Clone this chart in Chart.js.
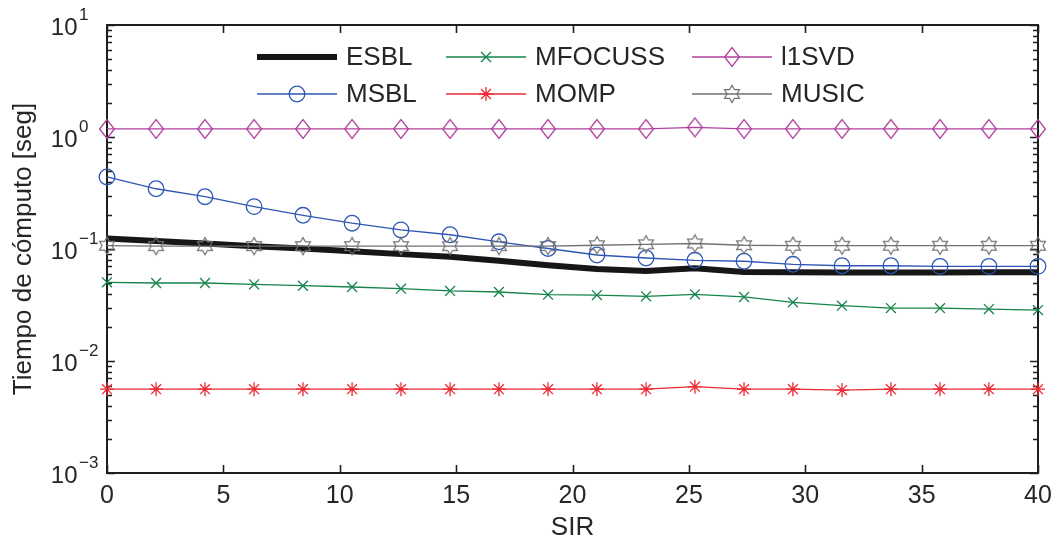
<!DOCTYPE html>
<html>
<head>
<meta charset="utf-8">
<script src="https://cdn.jsdelivr.net/npm/chart.js@4/dist/chart.umd.min.js"></script>
<style>
html,body{margin:0;padding:0;background:#ffffff;}
#wrap{width:1061px;height:543px;position:relative;}
</style>
</head>
<body>
<div id="wrap"><canvas id="c" width="1061" height="543"></canvas></div>
<script>
// ---- data ----
const sir = [0, 2.11, 4.21, 6.32, 8.42, 10.53, 12.63, 14.74, 16.84, 18.95, 21.05, 23.16, 25.26, 27.37, 29.47, 31.58, 33.68, 35.79, 37.89, 40];
const seriesNames = ['ESBL', 'MSBL', 'MFOCUSS', 'MOMP', 'l1SVD', 'MUSIC'];
const esbl    = [0.124, 0.118, 0.112, 0.106, 0.101, 0.0955, 0.090, 0.0853, 0.0786, 0.0715, 0.0663, 0.0636, 0.0673, 0.0623, 0.0619, 0.0617, 0.0617, 0.0618, 0.0619, 0.0620];
const msbl    = [0.44, 0.345, 0.293, 0.239, 0.200, 0.170, 0.148, 0.134, 0.116, 0.101, 0.0884, 0.0831, 0.0793, 0.0777, 0.0730, 0.0709, 0.0709, 0.0700, 0.0700, 0.0700];
const mfocuss = [0.0504, 0.0497, 0.0497, 0.0484, 0.0470, 0.0458, 0.0442, 0.0422, 0.0413, 0.0391, 0.0388, 0.0378, 0.0394, 0.0373, 0.0334, 0.0312, 0.0297, 0.0296, 0.0291, 0.0285];
const momp    = [0.0056, 0.0056, 0.0056, 0.0056, 0.0056, 0.0056, 0.0056, 0.0056, 0.0056, 0.0056, 0.0056, 0.0056, 0.0059, 0.0056, 0.0056, 0.0055, 0.0056, 0.0056, 0.0056, 0.0056];
const l1svd   = [1.18, 1.18, 1.18, 1.18, 1.18, 1.18, 1.18, 1.18, 1.18, 1.18, 1.18, 1.18, 1.22, 1.18, 1.18, 1.18, 1.18, 1.18, 1.18, 1.18];
const music   = [0.107, 0.106, 0.106, 0.106, 0.106, 0.106, 0.106, 0.106, 0.106, 0.106, 0.108, 0.110, 0.112, 0.108, 0.107, 0.107, 0.107, 0.107, 0.107, 0.107];
const yDecades = [0.001, 0.01, 0.1, 1, 10];
const yExponents = ['\u22123', '\u22122', '\u22121', '0', '1'];
const xTitle = 'SIR';
const yTitle = 'Tiempo de cómputo [seg]';

// ---- styling ----
const FONT = '"Liberation Sans", Arial, Helvetica, sans-serif';
const TXT = '#262626';
Chart.defaults.font.family = FONT;
Chart.defaults.color = TXT;

function diamondCanvas(color) {
  const c = document.createElement('canvas');
  c.width = 18; c.height = 22;
  const g = c.getContext('2d');
  g.strokeStyle = color; g.lineWidth = 1.3;
  g.beginPath();
  g.moveTo(9, 1.6); g.lineTo(16.4, 11); g.lineTo(9, 20.4); g.lineTo(1.6, 11);
  g.closePath(); g.stroke();
  return c;
}
function hexagramCanvas(color) {
  const c = document.createElement('canvas');
  c.width = 22; c.height = 22;
  const g = c.getContext('2d');
  g.strokeStyle = color; g.lineWidth = 1.2;
  const R = 8.6, r = R / Math.sqrt(3), cx = 11, cy = 11;
  g.beginPath();
  for (let k = 0; k < 12; k++) {
    const a = -Math.PI / 2 + k * Math.PI / 6;
    const rr = (k % 2 === 0) ? R : r;
    const px = cx + rr * Math.cos(a), py = cy + rr * Math.sin(a);
    if (k === 0) g.moveTo(px, py); else g.lineTo(px, py);
  }
  g.closePath(); g.stroke();
  return c;
}

const colors = {
  ESBL: '#161616', MSBL: '#2d57b3', MFOCUSS: '#14834a',
  MOMP: '#ec2a33', l1SVD: '#b0409f', MUSIC: '#707070'
};
const diamondImg = diamondCanvas(colors.l1SVD);
const hexImg = hexagramCanvas(colors.MUSIC);

function pts(arr) { return sir.map((s, i) => ({ x: s, y: arr[i] })); }

const datasets = [
  { label: seriesNames[0], data: pts(esbl), borderColor: colors.ESBL, backgroundColor: colors.ESBL,
    borderWidth: 6, pointRadius: 0, pointStyle: false, order: 3 },
  { label: seriesNames[1], data: pts(msbl), borderColor: colors.MSBL, backgroundColor: 'rgba(0,0,0,0)',
    borderWidth: 1.3, pointStyle: 'circle', pointRadius: 7.8, pointBorderWidth: 1.3,
    pointBorderColor: colors.MSBL, pointBackgroundColor: 'rgba(0,0,0,0)', order: 2 },
  { label: seriesNames[2], data: pts(mfocuss), borderColor: colors.MFOCUSS, backgroundColor: 'rgba(0,0,0,0)',
    borderWidth: 1.3, pointStyle: 'crossRot', pointRadius: 7, pointBorderWidth: 1.3,
    pointBorderColor: colors.MFOCUSS, order: 4 },
  { label: seriesNames[3], data: pts(momp), borderColor: colors.MOMP, backgroundColor: 'rgba(0,0,0,0)',
    borderWidth: 1.3, pointStyle: 'star', pointRadius: 7, pointBorderWidth: 1.3,
    pointBorderColor: colors.MOMP, order: 5 },
  { label: seriesNames[4], data: pts(l1svd), borderColor: colors.l1SVD, backgroundColor: 'rgba(0,0,0,0)',
    borderWidth: 1.3, pointStyle: diamondImg, pointRadius: 9, order: 6 },
  { label: seriesNames[5], data: pts(music), borderColor: colors.MUSIC, backgroundColor: 'rgba(0,0,0,0)',
    borderWidth: 1.3, pointStyle: hexImg, pointRadius: 9, order: 1 }
];
datasets.forEach(d => { d.tension = 0; d.clip = false; d.fill = false; d.pointHoverRadius = d.pointRadius; });

// ---- frame, inner ticks, log tick labels and legend ----
function marker(ctx, style, x, y, r, color, lw) {
  ctx.save();
  if (style && typeof style === 'object') {
    ctx.drawImage(style, x - style.width / 2, y - style.height / 2);
    ctx.restore(); return;
  }
  ctx.strokeStyle = color; ctx.lineWidth = lw;
  ctx.beginPath();
  if (style === 'circle') {
    ctx.arc(x, y, r, 0, Math.PI * 2);
  } else {
    const d = r * Math.SQRT1_2;
    if (style === 'crossRot' || style === 'star') {
      ctx.moveTo(x - d, y - d); ctx.lineTo(x + d, y + d);
      ctx.moveTo(x - d, y + d); ctx.lineTo(x + d, y - d);
    }
    if (style === 'star') {
      ctx.moveTo(x - r, y); ctx.lineTo(x + r, y);
      ctx.moveTo(x, y - r); ctx.lineTo(x, y + r);
    }
  }
  ctx.stroke();
  ctx.restore();
}

const framePlugin = {
  id: 'frame',
  beforeDatasetsDraw(chart) {
    const { ctx, chartArea: { left, right, top, bottom }, scales: { x, y } } = chart;
    ctx.save();
    ctx.strokeStyle = '#1e1e1e';
    ctx.lineWidth = 1.6;
    ctx.lineCap = 'butt';
    ctx.beginPath();
    x.ticks.forEach(t => {
      const px = Math.round(x.getPixelForValue(t.value)) + 0.5;
      ctx.moveTo(px, bottom); ctx.lineTo(px, bottom - 8);
      ctx.moveTo(px, top); ctx.lineTo(px, top + 8);
    });
    for (let di = 0; di < yDecades.length; di++) {
      const dec = yDecades[di];
      const kmax = (di === yDecades.length - 1) ? 1 : 9;
      for (let k = 1; k <= kmax; k++) {
        const py = Math.round(y.getPixelForValue(k * dec)) + 0.5;
        const len = (k === 1) ? 8 : 5;
        ctx.moveTo(left, py); ctx.lineTo(left + len, py);
        ctx.moveTo(right, py); ctx.lineTo(right - len, py);
      }
    }
    ctx.stroke();
    ctx.lineWidth = 2;
    ctx.strokeRect(left, top, right - left, bottom - top);
    ctx.restore();
  },
  afterDraw(chart) {
    const { ctx, scales: { y } } = chart;
    ctx.save();
    ctx.fillStyle = TXT;
    yDecades.forEach((dec, i) => {
      const py = y.getPixelForValue(dec);
      ctx.font = '24px ' + FONT;
      ctx.textAlign = 'right'; ctx.textBaseline = 'alphabetic';
      ctx.fillText('10', 77.5, py + 10);
      ctx.font = '17px ' + FONT;
      ctx.textAlign = 'left';
      ctx.fillText(yExponents[i], 79, py - 5);
    });
    // legend (2 rows x 3 columns, column-major order)
    const colX = [257, 446, 692];
    const rowY = [57, 94];
    chart.data.datasets.forEach((ds, i) => {
      const col = Math.floor(i / 2), row = i % 2;
      const x0 = colX[col], yy = rowY[row];
      ctx.save();
      ctx.strokeStyle = ds.borderColor; ctx.lineWidth = ds.borderWidth;
      ctx.beginPath(); ctx.moveTo(x0, yy); ctx.lineTo(x0 + 80, yy); ctx.stroke();
      ctx.restore();
      if (ds.pointRadius > 0) marker(ctx, ds.pointStyle, x0 + 40, yy, ds.pointRadius, ds.borderColor, ds.pointBorderWidth || 1.3);
      ctx.fillStyle = TXT;
      ctx.font = '26px ' + FONT;
      ctx.textAlign = 'left'; ctx.textBaseline = 'middle';
      ctx.fillText(ds.label, x0 + 89, yy + 1);
    });
    ctx.restore();
  }
};

new Chart(document.getElementById('c'), {
  type: 'line',
  data: { datasets },
  options: {
    responsive: false,
    animation: false,
    devicePixelRatio: 1,
    layout: { padding: { left: 0, right: 23, top: 25, bottom: 0 } },
    plugins: { legend: { display: false }, tooltip: { enabled: false } },
    scales: {
      x: {
        type: 'linear', min: 0, max: 40,
        ticks: { stepSize: 5, padding: 8, font: { size: 25 }, color: TXT, maxRotation: 0, autoSkip: false },
        grid: { display: false, drawTicks: false },
        border: { display: false },
        title: { display: true, text: xTitle, font: { size: 26 }, color: TXT, padding: { top: 0, bottom: 0 } },
        afterFit(s) { s.height = 70; }
      },
      y: {
        type: 'logarithmic', min: 0.001, max: 10,
        ticks: { display: false },
        grid: { display: false, drawTicks: false },
        border: { display: false },
        title: { display: true, text: yTitle, font: { size: 26 }, color: TXT, padding: { top: 8, bottom: 0 } },
        afterFit(s) { s.width = 107; }
      }
    }
  },
  plugins: [framePlugin]
});
</script>
</body>
</html>
